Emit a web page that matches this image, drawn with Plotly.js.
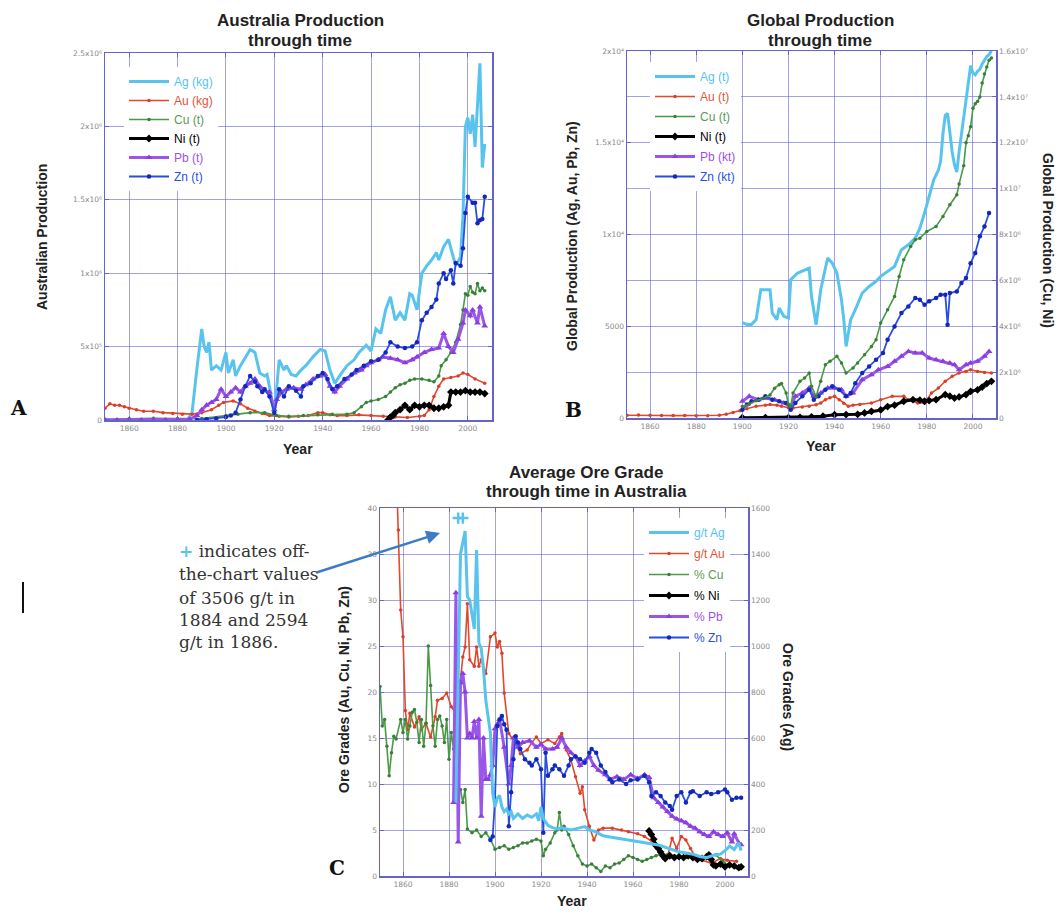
<!DOCTYPE html>
<html>
<head>
<meta charset="utf-8">
<script src="https://cdn.plot.ly/plotly-3.0.1.min.js"></script>
<style>
  html, body { margin: 0; padding: 0; background: #ffffff; }
  #chart { width: 1058px; height: 914px; }
</style>
</head>
<body>
<div id="chart"></div>
<script>
// ---------------- DATA ----------------
const xTickYears = [1860, 1880, 1900, 1920, 1940, 1960, 1980, 2000];
const MILLION = 1e6;

// Panel A: Australian production (values listed in millions of kg / t)
const aAgYears = [1884,1886,1888,1890,1891,1892,1893,1894,1896,1898,1900,1901,1903,1904,1906,1908,1910,1912,1914,1916,1917,1919,1920,1922,1924,1925,1927,1929,1931,1933,1936,1939,1941,1943,1945,1947,1950,1953,1955,1958,1960,1962,1964,1966,1968,1970,1972,1974,1976,1977,1979,1981,1983,1985,1987,1988,1990,1992,1994,1995,1997,1998,1999,2000,2001,2002,2003,2005,2006,2007];
const aAg = [0,0.05,0.35,0.62,0.5,0.46,0.53,0.34,0.37,0.34,0.46,0.32,0.41,0.30,0.37,0.43,0.48,0.46,0.32,0.30,0.31,0.14,0.03,0.41,0.34,0.37,0.31,0.30,0.34,0.37,0.43,0.48,0.47,0.34,0.25,0.30,0.37,0.41,0.46,0.51,0.47,0.62,0.59,0.75,0.84,0.68,0.73,0.68,0.86,0.85,0.75,1.0,1.05,1.09,1.14,1.09,1.18,1.23,1.11,1.05,1.11,1.39,2.0,2.06,1.95,2.08,1.86,2.43,1.72,1.88];
const aAuYears = [1850,1852,1854,1856,1858,1860,1863,1866,1870,1874,1878,1882,1886,1890,1894,1897,1899,1903,1906,1909,1912,1915,1918,1922,1926,1930,1934,1938,1940,1943,1946,1950,1955,1960,1965,1970,1975,1980,1982,1984,1986,1988,1990,1993,1996,1998,2000,2003,2007];
const aAu = [0.08,0.11,0.1,0.1,0.09,0.08,0.07,0.06,0.06,0.05,0.045,0.04,0.04,0.05,0.07,0.1,0.12,0.13,0.11,0.08,0.06,0.045,0.03,0.025,0.02,0.025,0.03,0.05,0.05,0.035,0.03,0.03,0.035,0.03,0.025,0.02,0.017,0.025,0.03,0.07,0.16,0.23,0.28,0.29,0.30,0.32,0.31,0.28,0.25];
const aCuYears = [1850,1860,1870,1880,1890,1900,1905,1910,1916,1921,1926,1932,1938,1944,1950,1953,1956,1958,1960,1963,1966,1968,1970,1972,1974,1976,1978,1981,1984,1986,1988,1989,1991,1993,1995,1997,1998,1999,2000,2001,2002,2003,2004,2005,2006,2007];
const aCu = [0.005,0.01,0.012,0.01,0.01,0.03,0.04,0.05,0.05,0.03,0.025,0.03,0.035,0.04,0.04,0.05,0.09,0.12,0.13,0.14,0.16,0.19,0.22,0.24,0.25,0.27,0.28,0.28,0.27,0.26,0.30,0.37,0.41,0.46,0.53,0.65,0.75,0.86,0.85,0.91,0.87,0.86,0.93,0.88,0.90,0.88];
const aNiYears = [1967,1968,1969,1970,1972,1974,1976,1978,1980,1982,1984,1986,1988,1990,1992,1993,1995,1997,1999,2001,2003,2005,2007];
const aNi = [0,0.02,0.03,0.05,0.07,0.1,0.07,0.1,0.09,0.1,0.1,0.08,0.08,0.09,0.1,0.19,0.19,0.19,0.2,0.19,0.19,0.19,0.18];
const aPbYears = [1850,1855,1860,1865,1870,1875,1880,1885,1888,1890,1892,1894,1896,1898,1900,1902,1904,1906,1908,1910,1912,1914,1916,1918,1920,1921,1923,1925,1928,1931,1933,1936,1939,1941,1943,1945,1947,1950,1953,1956,1958,1960,1963,1965,1968,1971,1974,1977,1979,1982,1985,1988,1990,1992,1994,1996,1998,1999,2001,2002,2004,2005,2007];
const aPb = [0,0,0,0,0,0,0,0.005,0.03,0.07,0.1,0.12,0.14,0.21,0.16,0.19,0.22,0.19,0.23,0.25,0.28,0.23,0.2,0.19,0.07,0.14,0.19,0.21,0.22,0.21,0.24,0.28,0.30,0.31,0.23,0.19,0.23,0.28,0.32,0.34,0.37,0.39,0.41,0.43,0.42,0.41,0.39,0.41,0.43,0.46,0.48,0.49,0.59,0.5,0.46,0.55,0.66,0.75,0.71,0.75,0.66,0.77,0.64];
const aZnYears = [1888,1892,1896,1900,1902,1904,1906,1908,1910,1912,1913,1915,1916,1918,1920,1922,1924,1926,1929,1931,1932,1935,1938,1940,1942,1944,1946,1949,1952,1954,1957,1960,1963,1966,1968,1971,1974,1977,1979,1981,1983,1985,1987,1988,1990,1991,1993,1994,1995,1997,1998,1999,2000,2002,2003,2004,2005,2006,2007];
const aZn = [0,0.005,0.01,0.02,0.03,0.05,0.14,0.23,0.30,0.26,0.23,0.19,0.21,0.16,0.05,0.21,0.16,0.23,0.2,0.16,0.23,0.25,0.30,0.32,0.28,0.21,0.23,0.28,0.31,0.34,0.37,0.40,0.41,0.46,0.53,0.50,0.49,0.50,0.53,0.68,0.73,0.77,0.82,0.93,1.0,0.96,1.02,0.93,1.07,1.05,1.17,1.41,1.52,1.48,1.48,1.34,1.36,1.37,1.52];

// Panel B: global production (Ag, Au in t; Pb, Zn in kt; Cu, Ni in millions of t)
const bAgYears = [1900,1902,1904,1906,1908,1910,1912,1913,1915,1916,1918,1920,1921,1924,1927,1929,1930,1932,1934,1937,1939,1941,1943,1944,1945,1947,1949,1952,1955,1958,1960,1963,1966,1969,1972,1975,1977,1979,1981,1983,1985,1986,1987,1988,1989,1990,1991,1992,1993,1994,1995,1996,1997,1998,1999,2000,2001,2002,2003,2004,2005,2006,2007,2008];
const bAg = [5200,5100,5100,5360,6990,7000,6990,5720,5360,5990,5540,5450,7540,7900,8080,8170,6630,5080,6990,8720,8440,7900,6450,5360,3900,5360,5900,6810,7170,7450,7720,7990,8260,9170,9440,9800,10350,11170,12080,12980,13500,14000,15500,16500,16600,15500,14500,13800,13400,14500,15500,16500,17500,18500,19200,18800,18700,18900,19000,19300,19500,19700,19800,20000];
const bAuYears = [1850,1855,1860,1865,1870,1875,1880,1885,1890,1893,1896,1899,1902,1906,1910,1912,1915,1917,1920,1922,1926,1929,1932,1934,1936,1938,1940,1942,1944,1946,1948,1951,1956,1960,1965,1970,1972,1976,1979,1982,1985,1988,1991,1994,1997,1999,2002,2005,2008];
const bAu = [150,160,150,140,130,130,120,120,150,200,300,400,500,640,700,730,700,640,560,545,600,640,720,820,1000,1100,1180,1000,800,640,700,730,820,1000,1180,1180,1000,820,820,1360,1630,2000,2270,2450,2540,2630,2540,2480,2450];
const bCuYears = [1900,1903,1906,1909,1912,1914,1916,1917,1919,1920,1921,1922,1925,1927,1929,1930,1932,1934,1936,1938,1941,1943,1945,1948,1950,1953,1956,1958,1960,1963,1966,1968,1970,1973,1975,1977,1980,1984,1987,1990,1993,1994,1996,1997,1998,1999,2000,2001,2002,2003,2004,2005,2006,2007,2008];
const bCu = [0.5,0.6,0.75,0.85,1.0,1.3,1.45,1.5,1.09,0.6,0.5,1.09,1.6,1.74,1.96,1.38,0.94,1.6,2.32,2.47,2.69,2.4,1.96,2.18,2.4,2.76,3.12,3.41,4.14,4.72,5.3,6.17,6.9,7.48,7.77,7.84,8.13,8.35,8.79,9.3,9.73,10.2,11.0,12.0,12.3,12.7,13.5,13.7,13.8,14.0,14.6,15.0,15.3,15.6,15.7];
const bNiYears = [1900,1910,1920,1925,1930,1935,1940,1945,1950,1953,1956,1960,1963,1966,1970,1974,1977,1979,1981,1984,1988,1990,1992,1994,1997,1999,2002,2004,2006,2008];
const bNi = [0.01,0.02,0.015,0.03,0.05,0.08,0.145,0.15,0.16,0.22,0.29,0.35,0.5,0.56,0.73,0.8,0.78,0.73,0.76,0.8,1.02,0.95,0.87,0.92,1.02,1.16,1.23,1.35,1.5,1.6];
const bPbYears = [1900,1903,1907,1910,1914,1918,1921,1923,1926,1929,1931,1934,1937,1940,1943,1945,1948,1952,1956,1959,1963,1966,1969,1972,1975,1978,1981,1984,1987,1990,1992,1994,1997,1999,2002,2005,2007];
const bPb = [910,1180,1000,1090,1000,820,640,1180,1360,1630,1180,1360,1630,1630,1540,1180,1360,2090,2360,2630,2810,3090,3360,3630,3540,3540,3270,3180,3090,3000,2900,2630,2900,3000,3090,3360,3630];
const bZnYears = [1900,1902,1904,1907,1910,1913,1916,1919,1921,1923,1926,1929,1931,1933,1936,1939,1942,1945,1947,1949,1952,1955,1958,1961,1963,1966,1969,1972,1975,1977,1979,1981,1984,1986,1988,1989,1990,1993,1995,1997,1999,2001,2003,2005,2007];
const bZn = [450,730,910,1000,1180,1000,910,820,450,820,1180,1540,1000,1180,1540,1730,1540,1180,1360,1900,2450,2810,3180,3540,4270,4990,5720,6080,6540,6450,6170,6360,6540,6720,6720,5080,6810,6900,7360,7630,8440,8990,9900,10440,11170];

// Panel C: average ore grade in Australia (Ag in g/t on right axis; others left)
const cAgYears = [1883,1885,1887,1888,1889,1890,1891,1892,1893,1894,1895,1896,1897,1898,1899,1900,1901,1902,1903,1904,1905,1906,1907,1908,1910,1912,1914,1916,1918,1919,1920,1921,1923,1925,1927,1929,1931,1933,1935,1937,1939,1941,1943,1945,1947,1950,1953,1956,1959,1962,1965,1968,1971,1974,1977,1980,1983,1986,1989,1992,1995,1998,2000,2002,2004,2006,2007];
const cAg = [320,1400,1500,1214,1200,1127,1074,1417,1013,990,900,765,700,620,360,300,340,350,300,280,290,270,280,250,270,250,265,255,270,240,300,250,220,210,205,210,205,200,205,210,215,200,195,185,175,170,165,160,155,150,145,140,135,125,115,105,100,95,85,80,90,95,110,130,115,145,110];
const cAgOffChartYears = [1884, 1886];
const cAgOffChartValues = [3506, 2594];
const cAuYears = [1857,1858,1859,1860,1861,1862,1863,1865,1867,1868,1870,1872,1874,1875,1877,1879,1881,1883,1884,1885,1886,1887,1888,1889,1891,1892,1893,1894,1896,1898,1900,1901,1902,1903,1904,1906,1909,1911,1914,1916,1918,1920,1923,1926,1928,1929,1931,1933,1935,1937,1938,1939,1941,1943,1945,1947,1951,1955,1958,1962,1965,1969,1972,1975,1977,1979,1981,1983,1985,1987,1990,1994,1998,2001,2005];
const cAu = [45,37.6,28.9,26,18,15.9,17.7,16.2,17.3,15.9,16.6,15.1,17.3,19.1,19.3,19.9,18.4,17.7,19.9,21.3,23.8,24.9,29.6,23.5,22.8,24.9,22.8,23.5,22,26,26.4,24.9,25.5,24.2,19.9,15.5,14.4,13.3,13.7,14.5,15.1,14.4,14.8,14.4,15.1,15.5,13.7,12.6,10.8,9.0,9.7,7.2,5.4,3.9,5.0,5.2,5.2,5.0,4.8,4.6,4.3,3.6,2.5,2.1,4.1,3.0,4.3,3.9,3.0,2.1,1.7,1.4,1.9,1.7,1.6];
const cCuYears = [1850,1851,1852,1853,1854,1855,1856,1857,1859,1860,1861,1862,1863,1864,1865,1866,1867,1868,1869,1870,1871,1872,1873,1874,1875,1876,1877,1878,1879,1880,1881,1882,1883,1884,1885,1886,1887,1888,1890,1892,1894,1896,1898,1900,1902,1904,1906,1908,1910,1912,1914,1916,1918,1920,1921,1922,1924,1926,1927,1928,1929,1930,1932,1934,1936,1938,1940,1942,1944,1946,1948,1950,1952,1954,1956,1958,1960,1962,1964,1966,1968,1970,1972,1975,1978,1980,1983,1986,1990,1993,1996,1999,2002,2005,2007];
const cCu = [20.6,16.3,17,14.1,10.9,13.4,15.2,14.9,17,15.6,17,14.9,16.3,17.8,18.1,16.7,14.5,17,14.1,16.6,25,20.7,16.3,14.1,17,17.4,16.3,14.5,17,12.7,15.6,13.8,14.1,9,9.4,8,9.4,5.1,4.7,5.0,4.3,4.7,4.0,2.9,3.1,3.3,2.9,3.1,3.3,3.6,3.6,3.8,4.0,3.8,2.2,2.9,3.6,4.7,5.0,6.9,5.0,5.4,4.5,3.3,2.2,1.3,1.1,1.3,0.9,0.5,1.1,0.9,1.3,1.4,1.8,2.2,2.0,1.8,1.6,1.8,2.0,2.2,2.4,2.3,2.2,2.0,2.0,2.2,2.0,2.3,2.3,1.6,1.1,0.9,0.9];
const cNiYears = [1967,1968,1969,1970,1971,1972,1973,1974,1976,1978,1980,1982,1984,1986,1988,1990,1992,1993,1994,1995,1996,1998,2000,2002,2004,2006,2007];
const cNi = [4.9,4.5,4.0,3.3,3.0,2.6,2.2,1.9,2.2,2.0,2.1,2.0,2.2,2.0,1.8,1.9,2.1,2.3,1.8,1.2,1.1,1.3,1.0,1.2,1.1,0.9,1.0];
const cPbYears = [1882,1883,1884,1885,1886,1887,1888,1889,1890,1891,1892,1893,1894,1895,1896,1897,1898,1899,1900,1901,1902,1904,1906,1907,1908,1910,1912,1915,1918,1920,1922,1925,1927,1929,1931,1933,1935,1937,1939,1941,1943,1945,1948,1950,1953,1956,1959,1962,1965,1967,1969,1971,1973,1975,1977,1979,1981,1983,1985,1987,1989,1991,1993,1995,1997,1999,2001,2003,2004,2006,2007];
const cPb = [8,30.8,3.7,21,22,20,15,15.5,15,16.8,15,17,6.5,15,10.5,10.5,11,12,16,16.5,17,14,10,12,15,14,14.5,14.7,14,14.3,13.8,13.8,14,15,14,13.4,13,12,12.5,13,12,11.5,11,10.5,10.8,10.5,11,10.6,11,10.7,8.5,8,7.5,7,6.5,6.2,6,5.8,5.4,5.2,4.8,4.5,4.3,4.8,4.5,4.3,4.7,3.7,4.6,3.6,3.4];
const cZnYears = [1898,1899,1900,1901,1902,1903,1904,1905,1906,1907,1908,1909,1910,1911,1913,1915,1916,1918,1920,1921,1922,1923,1925,1926,1928,1930,1932,1933,1935,1937,1939,1941,1942,1944,1946,1948,1950,1951,1954,1957,1959,1962,1965,1967,1968,1970,1972,1974,1976,1977,1979,1981,1983,1985,1986,1989,1992,1994,1997,2000,2001,2003,2005,2007];
const cZn = [3.9,4.3,8.3,16.3,17,17.4,16.5,15.9,5.4,9.1,12.7,15.2,14.5,13.8,12.7,12.3,12,12.7,11.6,4.7,13.4,10.9,11.6,12,11.6,10.9,12,12.7,13,12.7,12.3,13.4,13.8,13.4,12,11.3,10.5,10.2,10.5,10,10.4,10.5,10.9,10.2,8.7,9.1,8.7,8,7.6,7.2,8.7,9.1,8,9.1,9.2,8.7,9.1,8.9,9.1,9.4,9.1,8.3,8.5,8.5];

// Legend labels and tick labels
const aNames = ['Ag (kg)', 'Au (kg)', 'Cu (t)', 'Ni (t)', 'Pb (t)', 'Zn (t)'];
const bNames = ['Ag (t)', 'Au (t)', 'Cu (t)', 'Ni (t)', 'Pb (kt)', 'Zn (kt)'];
const cNames = ['g/t Ag', 'g/t Au', '% Cu', '% Ni', '% Pb', '% Zn'];
const aYTickVals = [0, 5e5, 1e6, 1.5e6, 2e6, 2.5e6];
const aYTickText = ['0', '5x10⁵', '1x10⁶', '1.5x10⁶', '2x10⁶', '2.5x10⁶'];
const bLeftTickVals = [0, 5000, 1e4, 1.5e4, 2e4];
const bLeftTickText = ['0', '5000', '1x10⁴', '1.5x10⁴', '2x10⁴'];
const bRightTickVals = [0, 2e6, 4e6, 6e6, 8e6, 1e7, 1.2e7, 1.4e7, 1.6e7];
const bRightTickText = ['0', '2x10⁶', '4x10⁶', '6x10⁶', '8x10⁶', '1x10⁷', '1.2x10⁷', '1.4x10⁷', '1.6x10⁷'];

// ---------------- STYLE ----------------
const W = 1058, H = 914;
const px = x => x / W;
const py = y => 1 - y / H;
const SANS = 'Liberation Sans, Arial, Helvetica, sans-serif';
const FRAME = '#6464c8';
const GRID = 'rgba(100,100,215,0.6)';

const STYLE = {
  Ag: { text: '#55c3ee', mode: 'lines', line: { color: '#58c4ee', width: 3 } },
  Au: { text: '#e0553a', mode: 'lines+markers', line: { color: '#e2492b', width: 1.6 }, marker: { color: '#d8402a', size: 3.5, symbol: 'circle' } },
  Cu: { text: '#5a9a55', mode: 'lines+markers', line: { color: '#4a9a46', width: 1.6 }, marker: { color: '#3a7f38', size: 3.5, symbol: 'circle' } },
  Ni: { text: '#000000', mode: 'lines+markers', line: { color: '#000000', width: 3 }, marker: { color: '#000000', size: 6, symbol: 'diamond' } },
  Pb: { text: '#9a52e6', mode: 'lines+markers', line: { color: '#9b55e8', width: 3 }, marker: { color: '#8a3ee0', size: 6, symbol: 'triangle-up' } },
  Zn: { text: '#2a4fe0', mode: 'lines+markers', line: { color: '#2a4fe0', width: 1.8 }, marker: { color: '#1428b8', size: 4.5, symbol: 'circle' } }
};

function trace(metal, name, xs, ys, xa, ya, legend, group, scale) {
  const s = STYLE[metal];
  const t = {
    type: 'scatter', mode: s.mode,
    x: xs, y: ys.map(v => v * (scale || 1)),
    xaxis: xa, yaxis: ya,
    name: '<span style="color:' + s.text + '">' + name + '</span>',
    legend: legend, legendgroup: group,
    line: Object.assign({}, s.line), cliponaxis: true,
    hoverinfo: 'skip'
  };
  if (s.marker) t.marker = Object.assign({}, s.marker);
  return t;
}

const traces = [
  // Panel A
  trace('Ag', aNames[0], aAgYears, aAg, 'x', 'y', 'legend', 'a1', MILLION),
  trace('Au', aNames[1], aAuYears, aAu, 'x', 'y', 'legend', 'a2', MILLION),
  trace('Cu', aNames[2], aCuYears, aCu, 'x', 'y', 'legend', 'a3', MILLION),
  trace('Ni', aNames[3], aNiYears, aNi, 'x', 'y', 'legend', 'a4', MILLION),
  trace('Pb', aNames[4], aPbYears, aPb, 'x', 'y', 'legend', 'a5', MILLION),
  trace('Zn', aNames[5], aZnYears, aZn, 'x', 'y', 'legend', 'a6', MILLION),
  // Panel B
  trace('Ag', bNames[0], bAgYears, bAg, 'x2', 'y2', 'legend2', 'b1'),
  trace('Au', bNames[1], bAuYears, bAu, 'x2', 'y2', 'legend2', 'b2'),
  trace('Cu', bNames[2], bCuYears, bCu, 'x2', 'y3', 'legend2', 'b3', MILLION),
  trace('Ni', bNames[3], bNiYears, bNi, 'x2', 'y3', 'legend2', 'b4', MILLION),
  trace('Pb', bNames[4], bPbYears, bPb, 'x2', 'y2', 'legend2', 'b5'),
  trace('Zn', bNames[5], bZnYears, bZn, 'x2', 'y2', 'legend2', 'b6'),
  // Panel C
  trace('Ag', cNames[0], cAgYears, cAg, 'x3', 'y5', 'legend3', 'c1'),
  trace('Au', cNames[1], cAuYears, cAu, 'x3', 'y4', 'legend3', 'c2'),
  trace('Cu', cNames[2], cCuYears, cCu, 'x3', 'y4', 'legend3', 'c3'),
  trace('Ni', cNames[3], cNiYears, cNi, 'x3', 'y4', 'legend3', 'c4'),
  trace('Pb', cNames[4], cPbYears, cPb, 'x3', 'y4', 'legend3', 'c5'),
  trace('Zn', cNames[5], cZnYears, cZn, 'x3', 'y4', 'legend3', 'c6')
];

// off-chart Ag markers, pinned just under the top of the right axis
const cRightMax = 1600;
const offChartCap = 1556;
traces.push({
  type: 'scatter', mode: 'markers', xaxis: 'x3', yaxis: 'y5', showlegend: false, hoverinfo: 'skip',
  x: cAgOffChartYears,
  y: cAgOffChartValues.map(v => Math.min(v, offChartCap)),
  marker: { symbol: 'cross-thin', size: 8, line: { color: '#58c4ee', width: 2.5 } }
});

const baseAxis = {
  showline: true, linecolor: FRAME, linewidth: 1.5, mirror: 'ticks',
  showgrid: true, gridcolor: GRID, gridwidth: 1, zeroline: false,
  ticks: 'inside', ticklen: 4, tickcolor: FRAME, tickwidth: 1,
  tickfont: { family: 'DejaVu Sans, ' + SANS, size: 7.5, color: '#8a8a8a' }, fixedrange: true
};
function xAxis(domain, anchor) {
  return Object.assign({}, baseAxis, {
    domain: domain, anchor: anchor, range: [1850, 2010],
    tickmode: 'array', tickvals: xTickYears, ticktext: xTickYears.map(String)
  });
}

const legendFont = { family: SANS, size: 12 };
const layout = {
  width: W, height: H,
  margin: { l: 0, r: 0, t: 0, b: 0, pad: 0 },
  paper_bgcolor: '#ffffff', plot_bgcolor: '#ffffff',
  hovermode: false,
  font: { family: SANS, color: '#222' },
  xaxis: xAxis([px(105), px(492)], 'y'),
  yaxis: Object.assign({}, baseAxis, {
    domain: [py(420), py(53)], anchor: 'x', range: [0, 2.5e6],
    tickmode: 'array', tickvals: aYTickVals, ticktext: aYTickText
  }),
  xaxis2: xAxis([px(627), px(996)], 'y2'),
  yaxis2: Object.assign({}, baseAxis, {
    domain: [py(418), py(51)], anchor: 'x2', range: [0, 2e4], showgrid: false, mirror: false,
    tickmode: 'array', tickvals: bLeftTickVals, ticktext: bLeftTickText
  }),
  yaxis3: Object.assign({}, baseAxis, {
    domain: [py(418), py(51)], anchor: 'x2', overlaying: 'y2', side: 'right', range: [0, 1.6e7], mirror: false,
    tickmode: 'array', tickvals: bRightTickVals, ticktext: bRightTickText
  }),
  xaxis3: xAxis([px(380), px(748)], 'y4'),
  yaxis4: Object.assign({}, baseAxis, {
    domain: [py(876), py(508)], anchor: 'x3', range: [0, 40], mirror: false,
    tickmode: 'linear', tick0: 0, dtick: 5
  }),
  yaxis5: Object.assign({}, baseAxis, {
    domain: [py(876), py(508)], anchor: 'x3', overlaying: 'y4', side: 'right', range: [0, cRightMax],
    showgrid: false, mirror: false, tickmode: 'linear', tick0: 0, dtick: 200
  }),
  legend: {
    x: px(124), y: py(67), xanchor: 'left', yanchor: 'top', bgcolor: '#ffffff', borderwidth: 0,
    font: legendFont, itemwidth: 40, tracegroupgap: 0, traceorder: 'normal'
  },
  legend2: {
    x: px(650), y: py(62), xanchor: 'left', yanchor: 'top', bgcolor: '#ffffff', borderwidth: 0,
    font: legendFont, itemwidth: 40, tracegroupgap: 1, traceorder: 'grouped'
  },
  legend3: {
    x: px(644), y: py(518), xanchor: 'left', yanchor: 'top', bgcolor: '#ffffff', borderwidth: 0,
    font: legendFont, itemwidth: 40, tracegroupgap: 2, traceorder: 'grouped'
  },
  annotations: [],
  shapes: [
    { type: 'line', xref: 'paper', yref: 'paper', x0: px(23), x1: px(23), y0: py(582), y1: py(613),
      line: { color: '#111', width: 2 } }
  ]
};

function ann(text, x, y, opts) {
  layout.annotations.push(Object.assign({
    text: text, x: px(x), y: py(y), xref: 'paper', yref: 'paper',
    showarrow: false, xanchor: 'center', yanchor: 'middle',
    font: { family: SANS, size: 14, color: '#222' }
  }, opts || {}));
}
const titleFont = { family: SANS, size: 17, color: '#222' };
ann('<b>Australia Production</b>', 300, 21, { font: titleFont });
ann('<b>through time</b>', 300, 40, { font: titleFont });
ann('<b>Global Production</b>', 820, 21, { font: titleFont });
ann('<b>through time</b>', 820, 40, { font: titleFont });
ann('<b>Average Ore Grade</b>', 586, 473, { font: titleFont });
ann('<b>through time in Australia</b>', 586, 491, { font: titleFont });

ann('<b>Year</b>', 298, 449);
ann('<b>Year</b>', 821, 446);
ann('<b>Year</b>', 572, 901);
ann('<b>Australian Production</b>', 42, 237, { textangle: -90 });
ann('<b>Global Production (Ag, Au, Pb, Zn)</b>', 572, 236, { textangle: -90 });
ann('<b>Global Production (Cu, Ni)</b>', 1048, 240, { textangle: 90 });
ann('<b>Ore Grades (Au, Cu, Ni, Pb, Zn)</b>', 344, 690, { textangle: -90 });
ann('<b>Ore Grades (Ag)</b>', 788, 697, { textangle: 90 });

const letterFont = { family: 'DejaVu Serif, serif', size: 20, color: '#111' };
ann('<b>A</b>', 18, 408, { font: letterFont });
ann('<b>B</b>', 573, 410, { font: letterFont });
ann('<b>C</b>', 337, 868, { font: letterFont });

const noteFont = { family: 'DejaVu Serif, serif', size: 17, color: '#333' };
const noteLines = [
  '<span style="color:#58c4ee"><b>+</b></span> indicates off-',
  'the-chart values',
  'of 3506 g/t in',
  '1884 and 2594',
  'g/t in 1886.'
];
const noteY = [551, 574, 598, 620, 642];
noteLines.forEach((t, i) => ann(t, 177, noteY[i], { xanchor: 'left', font: noteFont }));

layout.annotations.push({
  text: '', xref: 'paper', yref: 'paper', x: px(440), y: py(533),
  axref: 'pixel', ayref: 'pixel', ax: 315 - 440, ay: 573 - 533,
  showarrow: true, arrowhead: 2, arrowsize: 1.1, arrowwidth: 2.5, arrowcolor: '#3d7cc4', standoff: 0
});

Plotly.newPlot('chart', traces, layout, { displayModeBar: false, staticPlot: true });
</script>
</body>
</html>
